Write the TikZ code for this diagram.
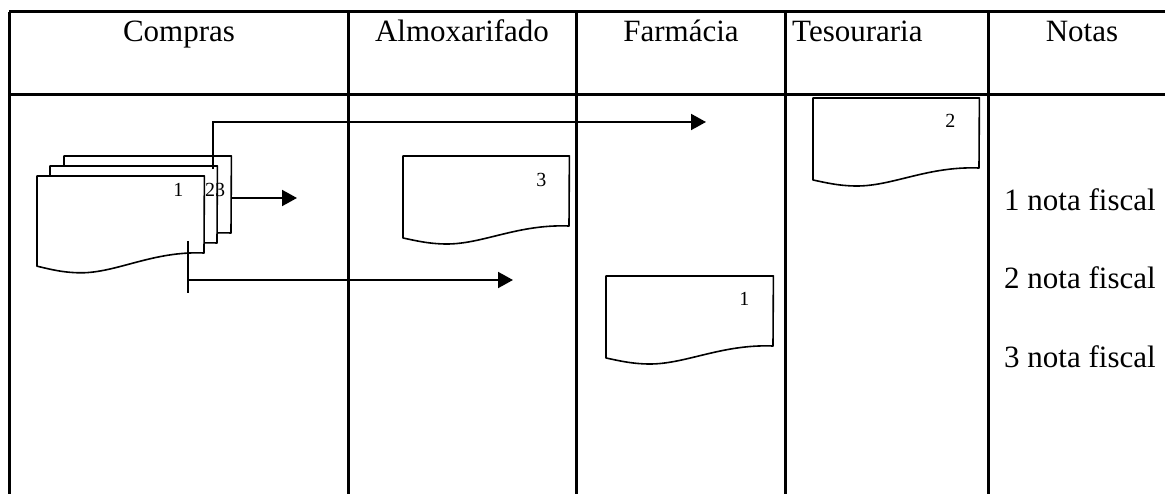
\documentclass[tikz,border=0pt]{standalone}
\usepackage{fontspec}
\setmainfont{Liberation Serif}
\usetikzlibrary{arrows.meta,calc}
\tikzset{
  gridline/.style={line width=3pt},
  docline/.style={line width=1.6pt, line join=round, fill=white},
  docbox/.style n args={2}{rectangle, inner sep=0pt, anchor=north west, minimum width=#1pt, minimum height=#2pt},
  head/.style={font=\fontsize{31}{36}\selectfont, anchor=base, inner sep=0pt},
  headw/.style={font=\fontsize{31}{36}\selectfont, anchor=base west, inner sep=0pt},
  note/.style={font=\fontsize{31}{36}\selectfont, anchor=base west, inner sep=0pt},
  lbl/.style={font=\fontsize{20}{24}\selectfont, anchor=base, inner sep=0pt},
  flow/.style={line width=2pt, -{Triangle[length=15pt,width=16pt]}},
  plainline/.style={line width=2pt},
}
\newcommand\docout[3]{%
  \draw[docline] (#1.north west) -- (#1.north east) -- ($(#1.north west)+(#2,{70*#3})$)
    .. controls ($(#1.north west)+({#2-51},{68*#3})$) and ($(#1.north west)+(80,{88*#3})$) .. ($(#1.north west)+(44,{88*#3})$)
    .. controls ($(#1.north west)+(25,{88*#3})$) and ($(#1.north west)+(10,{84*#3})$) .. ($(#1.north west)+(0,{82*#3})$) -- cycle;}
\begin{document}
\begin{tikzpicture}[x=1pt,y=-1pt]
  \fill[white] (0,0) rectangle (1165,494);
  \useasboundingbox (0,0) rectangle (1165,494);
  % table
  \draw[gridline] (9,12) -- (1165,12);
  \draw[gridline] (9,95) -- (1165,95);
  \foreach \x in {9,348,576,785,988} \draw[gridline] (\x,12) -- (\x,494);
  % headers
  \node[head] (hcomp) at (179,42) {Compras};
  \node[head] (halm) at (462,42) {Almoxarifado};
  \node[head] (hfar) at (681,42) {Farmácia};
  \node[headw] (htes) at (792,42) {Tesouraria};
  \node[head] (hnot) at (1082,42) {Notas};
  % notes
  \node[note] (n1) at (1004,211) {1 nota fiscal};
  \node[note] (n2) at (1004,289) {2 nota fiscal};
  \node[note] (n3) at (1004,367) {3 nota fiscal};
  % stacked documents in Compras
  \node[docbox={167}{97}] (dback) at (64,156) {};
  \node[docbox={167}{97}] (dmid) at (50,166) {};
  \node[docbox={167}{97}] (dfront) at (37,176) {};
  \docout{dback}{167}{1.1}
  \docout{dmid}{167}{1.1}
  \docout{dfront}{167}{1.1}
  \node[lbl] (lf) at ($(dfront.north east)+(-26,21)$) {1};
  \node[lbl] (lm) at (210,197) {2};
  \node[lbl] (lb) at (220,197) {3};
  % single documents
  \node[docbox={166}{88}] (dalm) at (403,156) {};
  \node[docbox={167}{88}] (dfar) at (606,276) {};
  \node[docbox={166}{88}] (dtes) at (813,98) {};
  \docout{dalm}{166}{1}
  \docout{dfar}{167}{1}
  \docout{dtes}{166}{1}
  \node[lbl] (l3) at ($(dalm.north east)+(-28,31)$) {3};
  \node[lbl] (l1) at ($(dfar.north east)+(-29,30)$) {1};
  \node[lbl] (l2) at ($(dtes.north east)+(-29,30)$) {2};
  % connectors
  \coordinate (t1) at (297,198);
  \draw[flow] (dback.north east |- t1) -- (t1);
  \coordinate (s2) at ($(dmid.north east)+(-4,3)$);
  \coordinate (t2) at (706,122);
  \draw[flow] (s2) |- (t2);
  \coordinate (s3) at ($(dfront.north west)+(151,65)$);
  \coordinate (e3) at ($(dfront.north west)+(151,117)$);
  \coordinate (t3) at (513,280);
  \draw[plainline] (s3) -- (e3);
  \draw[flow] (s3 |- t3) -- (t3);
\end{tikzpicture}
\end{document}
